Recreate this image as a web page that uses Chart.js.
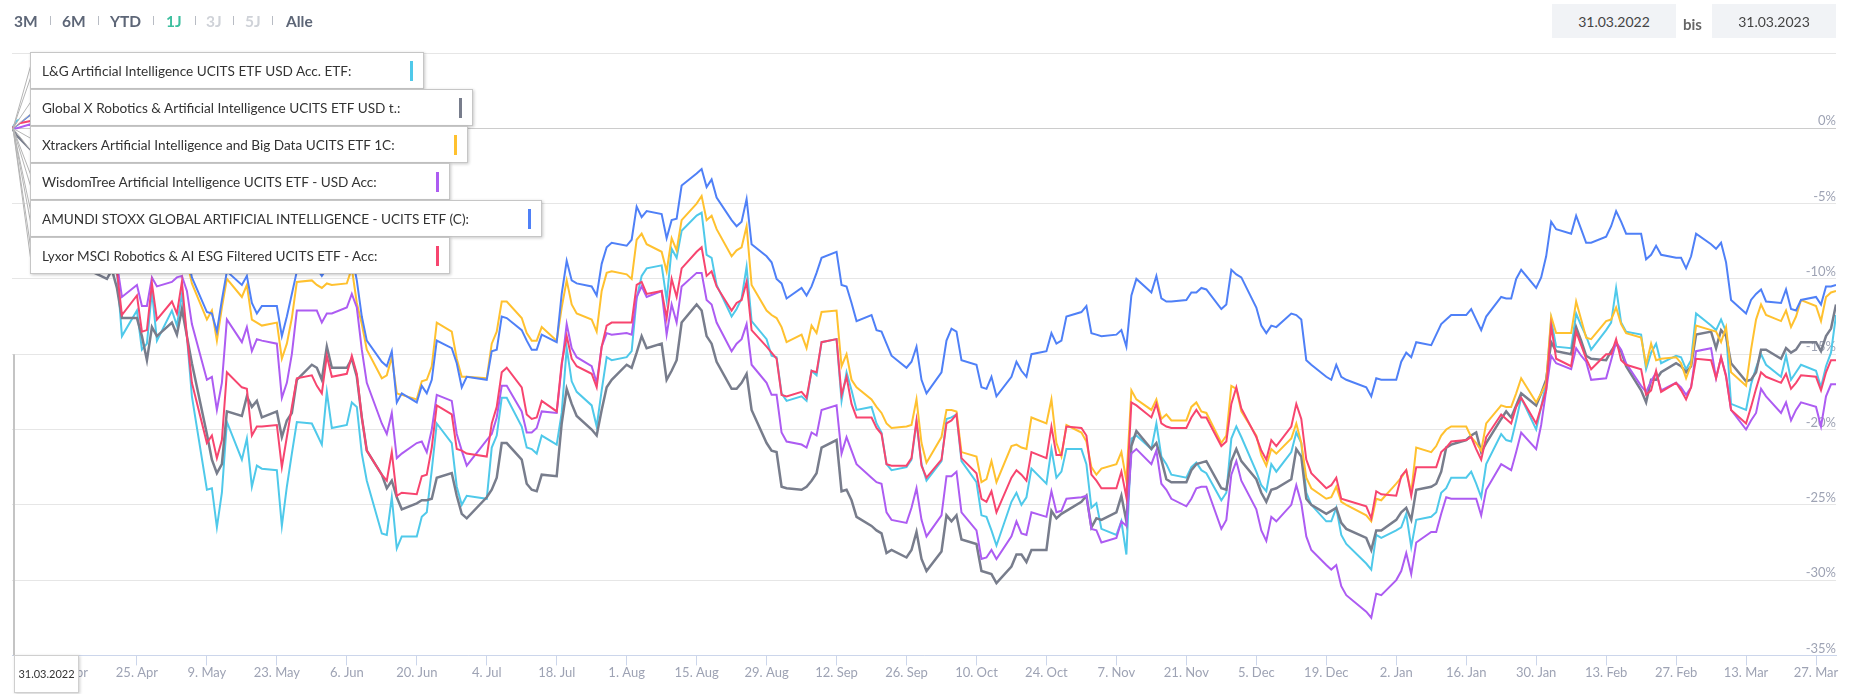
<!DOCTYPE html>
<html lang="de">
<head>
<meta charset="utf-8">
<title>KI-ETF Vergleich</title>
<script src="https://cdn.jsdelivr.net/npm/chart.js@4.4.0/dist/chart.umd.min.js"></script>
<style>
  body { margin: 0; background: #fff; font-family: Lato, "Open Sans", sans-serif; }
  #wrap { position: relative; width: 1850px; height: 694px; overflow: hidden; }
  #myChart { position: absolute; left: 0; top: 0; }
  .range { position: absolute; top: 11px; font-size: 15.5px; font-weight: 700; color: #5d6677; line-height: 20px; }
  .range.on { color: #3dbf9f; }
  .range.off { color: #cfd2d8; }
  .sep { position: absolute; top: 16px; width: 1px; height: 9px; background: #b8bcc4; }
  .datebox { position: absolute; top: 4px; width: 124px; height: 34px; background: #f1f3f6; color: #444; font-size: 14px; line-height: 35px; text-align: center; }
  .bis { position: absolute; left: 1683px; top: 15px; font-size: 15px; font-weight: 700; color: #666; }
  .tip { position: absolute; left: 30px; height: 37px; box-sizing: border-box; display: flex; align-items: center;
         padding: 0 10px 0 11px; background: #fff; border: 1px solid #c6c6c6; box-shadow: 1px 1px 3px rgba(0,0,0,0.22);
         font-size: 13.6px; color: #333; white-space: nowrap; }
  .tip i { display: block; width: 3px; height: 20px; margin-left: 59px; }
  .xlabel { position: absolute; left: 14px; top: 655px; width: 65px; height: 38px; box-sizing: border-box; background: #fff;
            border: 1px solid #cfcfcf; box-shadow: 1px 1px 3px rgba(0,0,0,0.2); font-size: 11px; color: #333;
            line-height: 36px; text-align: center; }
</style>
</head>
<body>
<div id="wrap">
  <canvas id="myChart" width="1850" height="694"></canvas>
  <div id="ranges"></div>
  <div class="datebox" style="left:1552px">31.03.2022</div>
  <div class="bis">bis</div>
  <div class="datebox" style="left:1712px">31.03.2023</div>
  <div id="tips"></div>
  <div class="xlabel">31.03.2022</div>
</div>
<script>
// trading days shown in the chart
const dates = [
  "2022-03-31","2022-04-01","2022-04-04","2022-04-05","2022-04-06","2022-04-07","2022-04-08","2022-04-11","2022-04-12","2022-04-13","2022-04-14","2022-04-19","2022-04-20","2022-04-21","2022-04-22","2022-04-25","2022-04-26","2022-04-27","2022-04-28","2022-04-29",
  "2022-05-02","2022-05-03","2022-05-04","2022-05-05","2022-05-06","2022-05-09","2022-05-10","2022-05-11","2022-05-12","2022-05-13","2022-05-16","2022-05-17","2022-05-18","2022-05-19","2022-05-20","2022-05-23","2022-05-24","2022-05-25","2022-05-26","2022-05-27","2022-05-30","2022-05-31",
  "2022-06-01","2022-06-02","2022-06-03","2022-06-06","2022-06-07","2022-06-08","2022-06-09","2022-06-10","2022-06-13","2022-06-14","2022-06-15","2022-06-16","2022-06-17","2022-06-20","2022-06-21","2022-06-22","2022-06-23","2022-06-24","2022-06-27","2022-06-28","2022-06-29","2022-06-30",
  "2022-07-04","2022-07-05","2022-07-06","2022-07-07","2022-07-08","2022-07-11","2022-07-12","2022-07-13","2022-07-14","2022-07-15","2022-07-18","2022-07-19","2022-07-20","2022-07-21","2022-07-22","2022-07-25","2022-07-26","2022-07-27","2022-07-28","2022-07-29",
  "2022-08-01","2022-08-02","2022-08-03","2022-08-04","2022-08-05","2022-08-08","2022-08-09","2022-08-10","2022-08-11","2022-08-12","2022-08-15","2022-08-16","2022-08-17","2022-08-18","2022-08-19","2022-08-22","2022-08-23","2022-08-24","2022-08-25","2022-08-26","2022-08-29","2022-08-30","2022-08-31",
  "2022-09-01","2022-09-02","2022-09-05","2022-09-06","2022-09-07","2022-09-08","2022-09-09","2022-09-12","2022-09-13","2022-09-14","2022-09-15","2022-09-16","2022-09-19","2022-09-20","2022-09-21","2022-09-22","2022-09-23","2022-09-26","2022-09-27","2022-09-28","2022-09-29","2022-09-30",
  "2022-10-03","2022-10-04","2022-10-05","2022-10-06","2022-10-07","2022-10-10","2022-10-11","2022-10-12","2022-10-13","2022-10-14","2022-10-17","2022-10-18","2022-10-19","2022-10-20","2022-10-21","2022-10-24","2022-10-25","2022-10-26","2022-10-27","2022-10-28","2022-10-31",
  "2022-11-01","2022-11-02","2022-11-03","2022-11-04","2022-11-07","2022-11-08","2022-11-09","2022-11-10","2022-11-11","2022-11-14","2022-11-15","2022-11-16","2022-11-17","2022-11-18","2022-11-21","2022-11-22","2022-11-23","2022-11-24","2022-11-25","2022-11-28","2022-11-29","2022-11-30",
  "2022-12-01","2022-12-02","2022-12-05","2022-12-06","2022-12-07","2022-12-08","2022-12-09","2022-12-12","2022-12-13","2022-12-14","2022-12-15","2022-12-16","2022-12-19","2022-12-20","2022-12-21","2022-12-22","2022-12-23","2022-12-27","2022-12-28","2022-12-29","2022-12-30",
  "2023-01-02","2023-01-03","2023-01-04","2023-01-05","2023-01-06","2023-01-09","2023-01-10","2023-01-11","2023-01-12","2023-01-13","2023-01-16","2023-01-17","2023-01-18","2023-01-19","2023-01-20","2023-01-23","2023-01-24","2023-01-25","2023-01-26","2023-01-27","2023-01-30","2023-01-31",
  "2023-02-01","2023-02-02","2023-02-03","2023-02-06","2023-02-07","2023-02-08","2023-02-09","2023-02-10","2023-02-13","2023-02-14","2023-02-15","2023-02-16","2023-02-17","2023-02-20","2023-02-21","2023-02-22","2023-02-23","2023-02-24","2023-02-27","2023-02-28",
  "2023-03-01","2023-03-02","2023-03-03","2023-03-06","2023-03-07","2023-03-08","2023-03-09","2023-03-10","2023-03-13","2023-03-14","2023-03-15","2023-03-16","2023-03-17","2023-03-20","2023-03-21","2023-03-22","2023-03-23","2023-03-24","2023-03-27","2023-03-28","2023-03-29","2023-03-30","2023-03-31"
];

// performance in % since 31.03.2022
const lgAI = [
  0, 0.5, 1.0, -1.0, -3.5, -3.5, -4.5, -6.5, -7.0, -5.5, -7.0, -6.5, -7.5, -9.5, -13.8, -12.1, -14.7, -14.3, -10.8, -14.1,
  -12.1, -13.1, -11.0, -13.8, -17.8, -24.0, -23.9, -26.5, -24.2, -19.5, -22.0, -20.6, -23.8, -22.4, -22.6, -22.7, -26.4, -23.8, -21.6, -19.5, -19.6, -20.3,
  -21.0, -17.5, -19.9, -19.7, -18.2, -18.5, -21.6, -23.4, -26.9, -27.0, -24.5, -27.9, -27.1, -27.1, -25.8, -25.5, -22.7, -19.6, -20.9, -23.8, -25.0, -24.4,
  -24.6, -21.2, -20.4, -17.9, -17.9, -19.8, -21.2, -21.3, -21.6, -20.4, -21.0, -18.9, -14.6, -16.8, -17.5, -18.4, -19.8, -17.4, -15.2, -15.4,
  -15.2, -14.8, -11.3, -9.8, -9.3, -9.1, -11.4, -8.0, -8.6, -6.8, -5.8, -5.6, -8.4, -8.6, -10.4, -12.5, -12.0, -11.3, -9.2, -12.8, -14.0, -15.1, -15.2,
  -17.6, -18.1, -17.8, -18.1, -16.1, -16.4, -14.2, -14.0, -18.1, -16.2, -17.4, -18.7, -18.5, -19.6, -20.2, -22.3, -22.7, -22.5, -22.0, -19.5, -22.3, -23.4,
  -22.1, -19.3, -19.2, -19.0, -22.1, -23.5, -25.7, -25.8, -26.7, -27.7, -24.8, -24.2, -25.0, -24.5, -22.6, -23.6, -21.3, -23.2, -22.8, -21.3, -21.3,
  -22.3, -25.2, -24.9, -26.6, -27.0, -26.1, -28.3, -20.6, -20.4, -21.3, -19.6, -21.8, -22.3, -23.0, -23.2, -22.5, -22.2, -22.7, -22.9, -24.7, -24.2, -20.6,
  -19.8, -20.5, -22.8, -23.7, -24.1, -22.3, -22.8, -21.5, -20.2, -20.9, -24.2, -25.0, -26.1, -26.1, -25.2, -27.0, -27.6, -28.9, -29.3, -27.0, -27.2,
  -26.7, -26.5, -25.6, -27.8, -26.0, -25.8, -25.5, -24.2, -23.9, -23.2, -23.2, -22.8, -23.6, -24.5, -22.3, -20.3, -20.7, -20.8, -19.4, -17.9, -20.0, -18.5,
  -16.9, -12.7, -14.5, -14.6, -12.3, -13.1, -13.8, -14.7, -13.4, -12.9, -10.6, -12.9, -13.5, -13.7, -16.0, -14.9, -14.3, -15.6, -15.1, -15.2,
  -16.0, -15.4, -12.3, -13.1, -13.4, -12.7, -13.5, -18.3, -18.7, -17.0, -15.9, -15.0, -15.7, -16.5, -15.1, -16.7, -16.2, -15.7, -16.1, -17.2, -15.8, -14.9, -12.4
];
const globalX = [
  0, -0.5, -1.5, -3.0, -5.0, -5.5, -6.5, -8.0, -8.5, -7.5, -9.2, -10.0, -9.4, -10.6, -12.6, -12.6, -13.8, -15.4, -13.2, -13.8,
  -12.9, -13.7, -12.0, -13.8, -15.6, -20.3, -22.0, -22.9, -22.3, -18.8, -19.1, -17.8, -18.5, -18.1, -19.2, -18.8, -20.5, -19.4, -18.9, -16.7, -15.7, -15.9,
  -16.7, -14.5, -15.9, -15.9, -15.3, -16.5, -19.2, -21.4, -23.0, -23.9, -23.4, -24.5, -25.3, -24.9, -24.7, -24.7, -24.6, -23.2, -22.9, -24.4, -25.6, -25.9,
  -24.5, -24.0, -23.2, -20.9, -20.9, -22.0, -23.6, -24.0, -24.1, -23.0, -23.1, -19.6, -17.3, -18.3, -19.1, -20.0, -20.4, -18.7, -17.2, -16.7,
  -15.7, -15.9, -14.9, -13.8, -14.6, -14.3, -16.7, -16.1, -15.4, -12.9, -11.7, -12.1, -13.8, -14.3, -15.5, -17.3, -17.3, -16.9, -16.3, -18.7, -20.9, -21.4, -21.5,
  -23.8, -23.9, -24.0, -23.8, -23.4, -22.9, -21.2, -20.7, -24.1, -24.0, -24.7, -25.8, -26.4, -26.7, -26.9, -28.2, -28.0, -28.5, -28.0, -26.8, -28.6, -29.4,
  -28.1, -25.7, -26.1, -25.7, -27.3, -27.6, -29.4, -29.5, -29.6, -30.2, -29.1, -28.3, -28.3, -28.8, -28.0, -28.0, -25.4, -25.9, -25.6, -25.4, -24.8,
  -24.4, -26.5, -25.9, -26.0, -25.5, -24.4, -26.1, -21.1, -20.1, -21.3, -20.9, -22.0, -23.3, -23.5, -23.5, -22.7, -22.3, -22.2, -22.1, -23.9, -24.0, -22.1,
  -21.3, -22.1, -23.3, -24.2, -24.8, -24.0, -23.9, -23.3, -21.3, -21.8, -24.6, -25.0, -25.6, -25.4, -25.2, -26.2, -26.6, -27.2, -28.0, -26.7, -26.7,
  -26.0, -25.5, -25.2, -26.0, -24.0, -23.8, -23.6, -22.8, -21.2, -21.0, -20.7, -20.4, -20.2, -21.5, -20.9, -19.3, -18.8, -19.2, -18.4, -17.6, -18.4, -17.6,
  -16.7, -14.2, -14.8, -15.0, -13.2, -14.1, -15.1, -15.3, -15.4, -14.8, -14.3, -14.8, -15.8, -17.4, -18.2, -16.7, -16.7, -16.2, -15.6, -15.8,
  -16.2, -15.8, -13.7, -13.5, -14.6, -13.4, -13.8, -15.6, -16.8, -16.7, -16.2, -14.7, -14.7, -15.3, -14.6, -14.9, -14.7, -14.2, -14.2, -14.8, -13.8, -13.3, -11.7
];
const xtrackers = [
  0, 0.2, 1.0, -0.5, -2.5, -2.0, -3.0, -4.5, -4.8, -3.5, -5.0, -4.5, -5.0, -6.5, -8.5, -8.0, -9.5, -9.2, -6.5, -8.5,
  -7.5, -8.0, -6.0, -8.8, -10.3, -12.7, -12.1, -14.1, -11.9, -10.0, -11.2, -10.4, -12.7, -12.9, -13.1, -12.9, -15.3, -14.3, -12.6, -10.2, -10.1, -10.4,
  -10.6, -10.3, -10.4, -10.3, -9.3, -11.6, -13.0, -14.7, -16.6, -16.4, -15.2, -17.6, -17.7, -18.0, -16.8, -16.7, -15.8, -12.9, -13.5, -15.3, -16.5, -16.5,
  -16.6, -14.3, -13.5, -11.5, -11.5, -12.6, -13.6, -14.1, -14.1, -13.2, -14.1, -11.9, -10.1, -11.7, -12.3, -12.7, -13.5, -10.8, -9.6, -9.5,
  -9.7, -10.0, -7.4, -7.0, -7.7, -8.2, -9.5, -7.3, -8.1, -6.1, -5.0, -4.5, -6.1, -5.8, -6.7, -8.5, -8.1, -7.9, -6.5, -10.4, -12.1, -12.4, -12.6,
  -13.2, -14.2, -13.7, -14.6, -13.1, -13.6, -12.2, -12.1, -15.8, -15.0, -16.7, -17.2, -18.0, -18.5, -18.9, -19.6, -19.9, -19.8, -19.7, -18.0, -20.9, -22.2,
  -20.5, -18.7, -18.7, -18.8, -21.5, -21.8, -23.5, -23.3, -22.1, -23.5, -21.1, -21.0, -21.2, -21.3, -19.2, -19.6, -18.0, -20.9, -21.8, -19.7, -20.2,
  -20.8, -22.5, -23.0, -22.6, -22.3, -21.5, -23.4, -17.4, -18.0, -18.7, -18.0, -19.3, -19.0, -19.4, -19.4, -18.5, -18.2, -18.8, -18.9, -20.9, -20.4, -17.1,
  -17.3, -18.8, -20.4, -21.7, -22.4, -21.3, -21.6, -20.6, -19.6, -20.9, -23.2, -23.9, -24.6, -24.5, -23.8, -24.8, -25.0, -25.7, -26.1, -24.6, -24.7,
  -23.6, -23.2, -22.7, -24.2, -21.2, -21.5, -21.1, -20.4, -20.0, -19.8, -19.8, -20.5, -20.9, -21.4, -19.6, -18.4, -18.5, -18.5, -17.6, -16.6, -18.2, -17.6,
  -16.9, -12.5, -13.6, -13.6, -11.5, -12.7, -13.9, -14.0, -12.8, -12.7, -11.9, -13.0, -13.6, -13.9, -15.7, -14.3, -15.4, -15.3, -15.2, -15.6,
  -16.6, -15.7, -13.1, -13.4, -13.5, -14.2, -13.2, -16.2, -17.1, -14.7, -12.7, -11.7, -12.4, -12.8, -12.1, -13.2, -12.5, -11.4, -11.8, -12.8, -11.2, -10.9, -10.8
];
const wisdomTree = [
  0, 0, 0.3, -1.5, -3.0, -3.0, -4.0, -6.0, -6.5, -5.0, -6.5, -6.0, -7.0, -9.0, -11.2, -10.4, -11.8, -11.8, -9.9, -10.5,
  -10.2, -9.9, -9.8, -10.8, -13.0, -16.7, -16.5, -18.7, -16.9, -12.7, -14.2, -13.2, -14.8, -14.0, -14.1, -14.3, -17.9, -16.9, -15.0, -12.1, -12.1, -12.1,
  -12.9, -12.3, -12.3, -11.9, -11.0, -11.9, -14.7, -16.9, -19.6, -20.3, -18.9, -21.9, -21.6, -20.9, -20.8, -21.5, -20.0, -17.7, -18.1, -20.3, -21.4, -22.4,
  -20.7, -20.3, -19.2, -17.1, -17.1, -18.8, -20.2, -20.2, -19.9, -18.8, -18.9, -15.8, -13.0, -14.6, -15.2, -15.8, -16.9, -14.5, -13.6, -13.7,
  -13.6, -13.7, -11.2, -10.5, -11.2, -10.8, -13.7, -11.7, -12.9, -10.5, -9.6, -9.6, -11.4, -11.7, -12.9, -14.8, -14.3, -14.0, -13.0, -15.7, -16.9, -17.7, -17.7,
  -20.2, -20.8, -21.0, -21.2, -20.2, -20.4, -18.7, -18.4, -21.6, -20.5, -21.4, -22.3, -23.2, -23.5, -23.6, -25.5, -26.0, -26.2, -25.2, -23.9, -26.0, -27.1,
  -25.7, -23.1, -23.1, -22.8, -25.5, -26.7, -28.6, -28.5, -28.0, -28.6, -27.1, -26.1, -26.9, -27.0, -25.5, -25.8, -24.1, -25.5, -25.4, -24.6, -24.5,
  -24.4, -26.6, -26.7, -27.5, -27.2, -26.1, -26.4, -21.6, -21.3, -22.3, -21.4, -23.6, -24.0, -24.6, -25.1, -24.6, -23.9, -23.8, -23.8, -26.6, -26.0, -23.0,
  -22.1, -23.4, -25.3, -26.7, -27.4, -25.8, -26.1, -25.0, -23.7, -24.9, -27.1, -28.0, -29.0, -29.3, -29.0, -30.4, -31.0, -32.1, -32.5, -30.9, -31.0,
  -30.0, -29.4, -28.2, -29.6, -27.5, -26.8, -26.8, -25.6, -24.5, -24.6, -24.6, -24.6, -24.6, -25.7, -24.0, -22.3, -22.5, -22.7, -21.5, -20.2, -21.3, -19.7,
  -17.4, -15.1, -15.6, -16.0, -14.6, -15.1, -15.5, -16.7, -16.6, -15.4, -14.2, -14.7, -15.6, -17.1, -17.5, -16.8, -16.2, -17.4, -16.9, -17.2,
  -17.7, -17.2, -14.8, -14.6, -16.6, -15.2, -16.4, -18.7, -20.0, -19.4, -18.9, -17.3, -17.8, -18.9, -18.2, -19.4, -18.7, -18.2, -18.5, -19.8, -17.8, -17.0, -17.0
];
const amundi = [
  0, 0.2, 1.0, -0.5, -2.0, -1.5, -2.5, -4.0, -4.3, -3.0, -4.5, -4.0, -4.5, -6.0, -8.0, -7.5, -9.0, -8.8, -6.0, -8.0,
  -7.0, -7.5, -5.5, -8.3, -9.9, -12.2, -12.3, -13.5, -11.4, -9.5, -10.4, -9.8, -11.6, -12.3, -11.8, -11.8, -13.8, -12.5, -11.0, -9.5, -9.0, -9.3,
  -9.8, -9.3, -9.6, -9.4, -8.4, -10.1, -12.5, -14.1, -15.5, -15.8, -14.8, -18.2, -17.6, -18.2, -17.1, -17.6, -16.7, -14.1, -14.6, -15.6, -17.2, -16.5,
  -16.7, -14.8, -14.7, -12.5, -12.6, -13.4, -14.1, -14.7, -14.7, -13.7, -14.2, -11.0, -8.8, -10.1, -10.3, -10.5, -11.1, -9.0, -7.9, -7.6,
  -7.8, -7.4, -5.2, -5.9, -5.5, -5.7, -7.3, -6.1, -6.0, -3.8, -3.0, -2.7, -3.9, -3.4, -4.6, -6.1, -6.5, -6.2, -4.7, -7.7, -8.5, -8.9, -10.0,
  -10.3, -11.3, -10.6, -11.1, -10.5, -9.6, -8.6, -8.2, -10.4, -10.5, -11.6, -12.8, -12.4, -13.4, -13.5, -14.3, -15.1, -15.9, -15.5, -14.5, -16.7, -17.6,
  -16.2, -14.1, -13.3, -13.5, -15.4, -15.7, -17.2, -17.3, -16.5, -17.8, -16.5, -15.5, -16.1, -16.5, -15.0, -14.8, -13.6, -14.3, -14.1, -12.5, -12.2,
  -11.8, -13.6, -13.7, -13.8, -13.7, -13.4, -14.5, -11.1, -10.0, -10.9, -9.8, -11.3, -11.5, -11.5, -11.4, -10.9, -10.9, -10.6, -10.7, -12.0, -11.7, -9.4,
  -9.7, -9.9, -11.9, -13.1, -13.6, -13.1, -13.2, -12.3, -12.4, -12.7, -15.4, -15.7, -16.5, -16.7, -15.7, -16.5, -16.7, -17.2, -17.8, -16.6, -16.7,
  -16.7, -15.5, -14.9, -15.2, -14.2, -14.4, -13.7, -13.0, -12.7, -12.4, -12.4, -12.0, -12.7, -13.4, -12.5, -11.2, -11.3, -11.3, -10.0, -9.4, -10.6, -9.9,
  -8.5, -6.2, -6.7, -7.0, -5.8, -6.7, -7.6, -7.6, -7.2, -6.5, -5.5, -6.2, -7.0, -7.0, -8.7, -8.4, -7.8, -8.4, -8.6, -8.6,
  -9.3, -8.5, -7.0, -7.7, -8.0, -7.6, -8.9, -11.4, -12.3, -11.4, -11.0, -10.7, -11.5, -11.6, -10.7, -12.0, -12.1, -11.4, -11.2, -11.7, -10.5, -10.5, -10.4
];
const lyxor = [
  0, 0.3, 0.5, -1.5, -3.5, -3.5, -4.5, -6.5, -7.0, -5.5, -7.2, -6.8, -7.5, -9.5, -12.4, -11.1, -13.5, -13.4, -10.3, -12.7,
  -11.5, -12.3, -10.2, -13.8, -16.9, -20.9, -20.4, -21.9, -20.7, -16.2, -17.2, -17.3, -20.4, -19.8, -19.8, -19.7, -22.5, -20.5, -18.5, -16.6, -16.4, -17.1,
  -17.6, -15.1, -16.5, -16.3, -15.1, -16.3, -19.2, -21.4, -23.0, -23.4, -21.5, -24.4, -24.2, -24.3, -23.1, -23.0, -21.2, -18.4, -19.0, -21.3, -21.4, -21.6,
  -21.8, -19.6, -18.5, -16.2, -15.9, -17.2, -19.0, -19.3, -19.2, -18.1, -18.8, -15.6, -13.8, -15.3, -15.8, -16.3, -17.2, -14.5, -13.1, -12.9,
  -12.9, -12.9, -10.4, -10.2, -11.0, -10.8, -12.6, -10.0, -11.2, -9.3, -8.2, -7.9, -9.8, -9.5, -10.5, -12.1, -11.6, -11.4, -10.2, -13.4, -14.5, -14.9, -15.3,
  -17.7, -17.8, -17.5, -17.9, -16.1, -16.2, -14.2, -14.0, -17.7, -16.5, -18.3, -19.2, -19.2, -19.9, -20.3, -22.3, -22.4, -22.4, -21.9, -19.4, -22.4, -23.2,
  -22.0, -19.6, -19.4, -19.0, -21.9, -22.9, -24.6, -24.8, -24.1, -25.5, -23.2, -22.7, -23.0, -23.4, -21.5, -21.9, -19.8, -21.7, -21.7, -19.8, -19.9,
  -20.4, -23.0, -23.4, -23.9, -23.9, -22.8, -24.5, -18.2, -18.4, -19.2, -18.3, -19.6, -19.8, -19.9, -19.9, -19.2, -18.7, -19.2, -19.2, -21.1, -20.8, -18.3,
  -17.2, -18.6, -20.5, -21.4, -22.0, -20.7, -21.1, -19.8, -18.3, -19.3, -22.0, -22.9, -23.9, -23.7, -23.2, -24.6, -24.7, -25.1, -25.9, -24.1, -24.3,
  -24.4, -23.1, -22.7, -24.4, -22.5, -22.5, -22.5, -21.5, -21.2, -20.8, -20.7, -20.5, -21.3, -22.0, -20.5, -19.0, -19.3, -19.6, -18.5, -17.9, -19.6, -18.5,
  -17.4, -13.1, -15.3, -15.8, -13.5, -14.4, -15.3, -16.0, -15.0, -15.0, -14.0, -15.4, -15.7, -16.0, -17.7, -17.4, -16.1, -17.5, -16.9, -17.4,
  -18.0, -17.2, -15.3, -15.4, -16.6, -15.2, -16.5, -18.7, -19.6, -18.5, -17.3, -16.2, -16.5, -16.9, -16.3, -17.3, -16.9, -16.4, -16.5, -17.4, -16.2, -15.4, -15.4
];

const names = [
  "L&G Artificial Intelligence UCITS ETF USD Acc. ETF:",
  "Global X Robotics & Artificial Intelligence UCITS ETF USD t.:",
  "Xtrackers Artificial Intelligence and Big Data UCITS ETF 1C:",
  "WisdomTree Artificial Intelligence UCITS ETF - USD Acc:",
  "AMUNDI STOXX GLOBAL ARTIFICIAL INTELLIGENCE - UCITS ETF (C):",
  "Lyxor MSCI Robotics & AI ESG Filtered UCITS ETF - Acc:"
];
const series = [lgAI, globalX, xtrackers, wisdomTree, amundi, lyxor];
const colors = ["#4fc9ea", "#787d8c", "#ffc12f", "#ad5cf2", "#4f80f7", "#f7456f"];

const tickLabels = ["11. Apr", "25. Apr", "9. May", "23. May", "6. Jun", "20. Jun", "4. Jul", "18. Jul", "1. Aug",
  "15. Aug", "29. Aug", "12. Sep", "26. Sep", "10. Oct", "24. Oct", "7. Nov", "21. Nov", "5. Dec", "19. Dec",
  "2. Jan", "16. Jan", "30. Jan", "13. Feb", "27. Feb", "13. Mar", "27. Mar"];
const firstTick = "2022-04-11";
const ranges = ["3M", "6M", "YTD", "1J", "3J", "5J", "Alle"];

// ---- header + tooltip boxes (html) ----
const rangeX = [14, 62, 110, 166, 206, 245, 286];
const sepX = [50, 98, 153, 195, 233, 272];
let head = "";
ranges.forEach((r, i) => {
  let cls = r == "1J" ? "range on" : (r == "3J" || r == "5J") ? "range off" : "range";
  head += `<span class="${cls}" style="left:${rangeX[i]}px">${r}</span>`;
  if (i < sepX.length) head += `<span class="sep" style="left:${sepX[i]}px"></span>`;
});
document.getElementById("ranges").innerHTML = head;

const tipTop = 52, tipStep = 37, tipLeft = 30;
let tips = "";
names.forEach((n, i) => {
  tips += `<div class="tip" style="top:${tipTop + i * tipStep}px"><span></span><i style="background:${colors[i]}"></i></div>`;
});
const tipsEl = document.getElementById("tips");
tipsEl.innerHTML = tips;
tipsEl.querySelectorAll(".tip span").forEach((s, i) => { s.textContent = names[i]; });

// ---- chart ----
const day0 = Date.parse(dates[0]);
const dayOf = s => Math.round((Date.parse(s) - day0) / 864e5);
const tickDays = tickLabels.map((t, i) => dayOf(firstTick) + 14 * i);

const hoverDecor = {
  id: "hoverDecor",
  afterDatasetsDraw(chart) {
    const { ctx, chartArea, scales: { x, y } } = chart;
    const px = x.getPixelForValue(0), py = y.getPixelForValue(0);
    ctx.save();
    // crosshair
    ctx.strokeStyle = "#c4c4c4";
    ctx.lineWidth = 2;
    ctx.beginPath();
    ctx.moveTo(px + 2, y.getPixelForValue(-15));
    ctx.lineTo(px + 2, chartArea.bottom);
    ctx.stroke();
    // tooltip callouts
    ctx.lineWidth = 1;
    ctx.strokeStyle = "#b4b4b4";
    ctx.fillStyle = "#fff";
    names.forEach((n, i) => {
      const cy = tipTop + i * tipStep + tipStep / 2;
      ctx.beginPath();
      ctx.moveTo(tipLeft + 1, cy - 6);
      ctx.lineTo(px + 1, py);
      ctx.lineTo(tipLeft + 1, cy + 6);
      ctx.closePath();
      ctx.fill();
      ctx.stroke();
    });
    ctx.restore();
  }
};

Chart.defaults.font.family = "Lato, 'Open Sans', sans-serif";

new Chart("myChart", {
  type: "line",
  data: {
    datasets: series.map((s, i) => ({
      label: names[i],
      data: dates.map((d, j) => ({ x: dayOf(d), y: s[j] })),
      borderColor: colors[i],
      borderWidth: i == 1 ? 2.5 : 2,
      pointRadius: 0,
      tension: 0,
      fill: false,
      order: series.length - i
    }))
  },
  options: {
    responsive: false,
    animation: false,
    devicePixelRatio: 1,
    layout: { padding: { left: 12, right: 14, top: 53, bottom: 13 } },
    plugins: { legend: { display: false }, tooltip: { enabled: false } },
    scales: {
      x: {
        type: "linear",
        min: 0,
        max: dayOf(dates[dates.length - 1]),
        afterBuildTicks: scale => { scale.ticks = tickDays.map(v => ({ value: v })); },
        ticks: {
          autoSkip: false,
          maxRotation: 0,
          padding: 0,
          color: "#9ea3b4",
          font: { size: 13 },
          callback: v => tickLabels[tickDays.indexOf(v)]
        },
        grid: { drawOnChartArea: false, tickLength: 10, color: "#ccd6eb" },
        border: { color: "#ccd6eb" }
      },
      y: {
        position: "right",
        min: -35,
        max: 5,
        ticks: {
          stepSize: 5,
          mirror: true,
          padding: 0,
          labelOffset: -7,
          color: "#9ea3b4",
          font: { size: 13 },
          callback: v => v == 5 ? "" : v + "%"
        },
        grid: { drawTicks: false, color: c => c.tick && c.tick.value == 0 ? "#cccccc" : "#e6e6e6" },
        border: { display: false }
      }
    }
  },
  plugins: [hoverDecor]
});
</script>
</body>
</html>
